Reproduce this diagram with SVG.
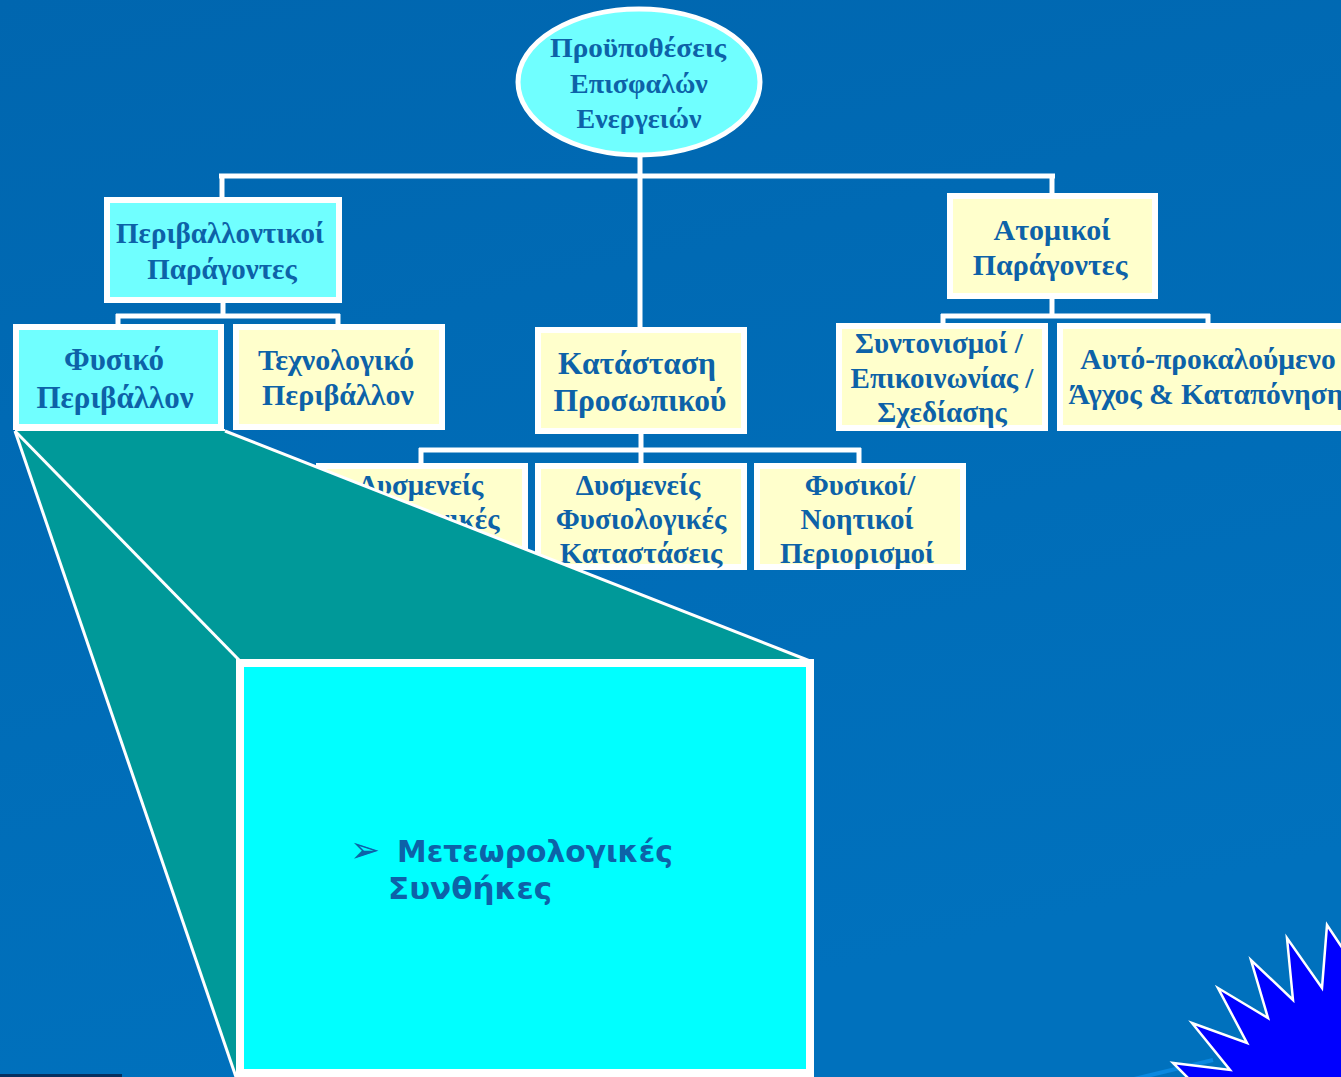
<svg xmlns="http://www.w3.org/2000/svg" width="1341" height="1077" viewBox="0 0 1341 1077">
<defs>
<linearGradient id="bg" x1="0" y1="0" x2="0.3" y2="1">
<stop offset="0" stop-color="#0066AF"/>
<stop offset="1" stop-color="#0071BD"/>
</linearGradient>
</defs>
<style>
.box{stroke:#FFFFFF;stroke-width:6}
.cy{fill:#70FFFF}
.yl{fill:#FFFFCC}
.t{font-family:"Liberation Serif","Times New Roman",serif;font-weight:bold;fill:#0D62A8;text-anchor:middle}
.conn line{stroke:#FFFFFF;stroke-width:5}
</style>
<rect x="0" y="0" width="1341" height="1077" fill="url(#bg)"/>
<g id="connectors" class="conn">
<line x1="640" y1="155" x2="640" y2="330"/>
<line x1="219" y1="176" x2="1055" y2="176"/>
<line x1="222" y1="174" x2="222" y2="200"/>
<line x1="1052" y1="174" x2="1052" y2="196"/>
<line x1="223" y1="300" x2="223" y2="316"/>
<line x1="116" y1="316" x2="340" y2="316"/>
<line x1="118" y1="314" x2="118" y2="327"/>
<line x1="338" y1="314" x2="338" y2="327"/>
<line x1="641" y1="431" x2="641" y2="466"/>
<line x1="419" y1="450" x2="861" y2="450"/>
<line x1="421" y1="448" x2="421" y2="466"/>
<line x1="859" y1="448" x2="859" y2="466"/>
<line x1="1052" y1="296" x2="1052" y2="316"/>
<line x1="941" y1="316" x2="1210" y2="316"/>
<line x1="943" y1="314" x2="943" y2="326"/>
<line x1="1208" y1="314" x2="1208" y2="326"/>
</g>
<g id="root">
<ellipse cx="639" cy="82" rx="121" ry="73" fill="#70FFFF" stroke="#FFFFFF" stroke-width="5"/>
<text class="t" font-size="28" x="638" y="57" textLength="176" lengthAdjust="spacingAndGlyphs">Προϋποθέσεις</text>
<text class="t" font-size="28" x="639" y="93">Επισφαλών</text>
<text class="t" font-size="28" x="639" y="128">Ενεργειών</text>
</g>
<g id="env">
<rect class="box cy" x="107" y="200" width="232" height="100"/>
<text class="t" font-size="29" x="220" y="243">Περιβαλλοντικοί</text>
<text class="t" font-size="29" x="222" y="279">Παράγοντες</text>
</g>
<g id="physical">
<rect class="box cy" x="16" y="327" width="205" height="100"/>
<text class="t" font-size="31" x="114" y="370">Φυσικό</text>
<text class="t" font-size="31" x="115" y="408">Περιβάλλον</text>
</g>
<g id="tech">
<rect class="box yl" x="236" y="327" width="206" height="100"/>
<text class="t" font-size="30" x="336" y="370">Τεχνολογικό</text>
<text class="t" font-size="30" x="338" y="405">Περιβάλλον</text>
</g>
<g id="staff">
<rect class="box yl" x="538" y="330" width="206" height="101"/>
<text class="t" font-size="31.5" x="637" y="374">Κατάσταση</text>
<text class="t" font-size="31.5" x="640" y="411">Προσωπικού</text>
</g>
<g id="psych">
<rect class="box yl" x="319" y="466" width="206" height="101"/>
<text class="t" font-size="29" x="421" y="495">Δυσμενείς</text>
<text class="t" font-size="29" x="421" y="529">Ψυχολογικές</text>
</g>
<g id="physio">
<rect class="box yl" x="538" y="466" width="206" height="101"/>
<text class="t" font-size="29" x="638" y="495">Δυσμενείς</text>
<text class="t" font-size="29" x="641" y="529">Φυσιολογικές</text>
<text class="t" font-size="29" x="641" y="563">Καταστάσεις</text>
</g>
<g id="limits">
<rect class="box yl" x="757" y="466" width="206" height="101"/>
<text class="t" font-size="29" x="860" y="495">Φυσικοί/</text>
<text class="t" font-size="29" x="857" y="529">Νοητικοί</text>
<text class="t" font-size="29" x="857" y="563">Περιορισμοί</text>
</g>
<g id="personal">
<rect class="box yl" x="950" y="196" width="205" height="100"/>
<text class="t" font-size="30" x="1052" y="240">Ατομικοί</text>
<text class="t" font-size="30" x="1050" y="275">Παράγοντες</text>
</g>
<g id="coord">
<rect class="box yl" x="839" y="326" width="206" height="102"/>
<text class="t" font-size="29" x="939" y="353">Συντονισμοί /</text>
<text class="t" font-size="29" x="942" y="388">Επικοινωνίας /</text>
<text class="t" font-size="29" x="942" y="422">Σχεδίασης</text>
</g>
<g id="stress">
<rect class="box yl" x="1060" y="326" width="290" height="102"/>
<text class="t" font-size="29.5" x="1208" y="369">Αυτό-προκαλούμενο</text>
<text class="t" font-size="29.5" x="1206" y="404">Άγχος &amp; Καταπόνηση</text>
</g>
<g id="zoom">
<polygon points="15,431 225,431 810,661 240,661 240,1077 236,1077" fill="#009999"/>
<line x1="15" y1="431" x2="236" y2="1077" stroke="#FFFFFF" stroke-width="3"/>
<line x1="15" y1="431" x2="240" y2="661" stroke="#FFFFFF" stroke-width="3"/>
<line x1="225" y1="431" x2="810" y2="661" stroke="#FFFFFF" stroke-width="3"/>
<line x1="15" y1="430" x2="225" y2="430" stroke="#FFFFFF" stroke-width="2"/>
</g>
<g id="detail">
<rect x="240" y="663" width="570" height="410" fill="#00FFFF" stroke="#FFFFFF" stroke-width="8"/>
<text font-family="DejaVu Sans,sans-serif" font-size="36" fill="#0D62A8" x="350" y="862">➢</text>
<text font-family="DejaVu Sans,sans-serif" font-weight="bold" font-size="30" fill="#0D62A8" x="397" y="862" textLength="276" lengthAdjust="spacingAndGlyphs">Μετεωρολογικές</text>
<text font-family="DejaVu Sans,sans-serif" font-weight="bold" font-size="30" fill="#0D62A8" x="388" y="899" textLength="164" lengthAdjust="spacingAndGlyphs">Συνθήκες</text>
</g>
<rect x="0" y="1074" width="122" height="3" fill="#06305F"/>
<g id="star">
<line x1="1130" y1="1080" x2="1213" y2="1060" stroke="#0A88E0" stroke-width="4"/>
<polygon points="1345,952 1327,925 1322,988 1287,938 1293,1000 1251,960 1268,1018 1218,988 1247,1043 1192,1023 1230,1070 1173,1063 1192,1082 1345,1082" fill="#0000FF" stroke="#FFFFFF" stroke-width="2.5"/>
</g>
</svg>
